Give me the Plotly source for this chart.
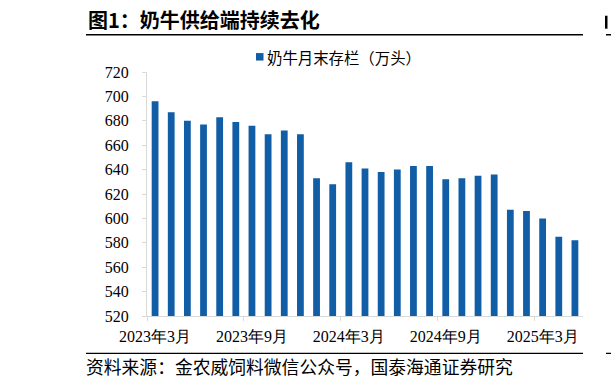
import plotly.graph_objects as go

categories = ["2023年3月", "2023年4月", "2023年5月", "2023年6月", "2023年7月", "2023年8月",
              "2023年9月", "2023年10月", "2023年11月", "2023年12月", "2024年1月", "2024年2月",
              "2024年3月", "2024年4月", "2024年5月", "2024年6月", "2024年7月", "2024年8月",
              "2024年9月", "2024年10月", "2024年11月", "2024年12月", "2025年1月", "2025年2月",
              "2025年3月", "2025年4月", "2025年5月"]
values = [696, 687, 680, 677, 683, 679, 676, 669, 672, 669, 633, 628,
          646, 641, 638, 640, 643, 643, 632, 633, 635, 636, 607, 606,
          600, 585, 582]
series_name = "奶牛月末存栏（万头）"
tick_idx = [0, 6, 12, 18, 24]
ytick_vals = [520, 540, 560, 580, 600, 620, 640, 660, 680, 700, 720]

W, H = 611, 387
L, R, T, B = 147, 28, 71.5, 70.5
pw = W - L - R
ph = H - T - B

x_idx = list(range(len(categories)))
FONT = "Times New Roman, Liberation Serif, DejaVu Serif, serif"
CJK = "Noto Sans CJK SC"
BLUE = "#115DA6"

fig = go.Figure()
fig.add_trace(go.Bar(x=x_idx, y=values, name=series_name, marker_color=BLUE,
                     marker_line_width=0, width=0.42, showlegend=False, hoverinfo="skip"))

def px_x(p):
    return (p - L) / pw

def px_y(p):
    return (H - B - p) / ph

fig.update_layout(
    width=W, height=H,
    margin=dict(l=L, r=R, t=T, b=B),
    paper_bgcolor="white", plot_bgcolor="white",
    font=dict(family=FONT, size=16, color="black"),
    showlegend=False,
    xaxis=dict(range=[-0.5, len(categories) - 0.5], tickmode="array",
               tickvals=tick_idx, ticktext=[categories[i] for i in tick_idx],
               ticks="", showline=True, linecolor="#D9D9D9", linewidth=1,
               showgrid=False, zeroline=False, ticklabelstandoff=6,
               minor=dict(tickmode="array", tickvals=[i - 0.5 for i in tick_idx],
                          ticks="outside", ticklen=4, tickcolor="#D9D9D9", showgrid=False),
               tickfont=dict(family=FONT, size=16, color="black")),
    yaxis=dict(range=[520, 720], tickmode="array", tickvals=ytick_vals,
               ticks="outside", ticklen=4, tickcolor="#D9D9D9",
               showline=True, linecolor="#D9D9D9", linewidth=1,
               showgrid=False, zeroline=False, ticklabelstandoff=10,
               tickfont=dict(family=FONT, size=16, color="black")),
)

# legend (square + label)
fig.add_shape(type="rect", xref="paper", yref="paper", x0=px_x(256), x1=px_x(263.5),
              y0=px_y(60), y1=px_y(52.5), fillcolor=BLUE, line_width=0)
fig.add_annotation(xref="paper", yref="paper", x=px_x(265), y=px_y(56), xanchor="left", yanchor="middle",
                   text=series_name, showarrow=False,
                   font=dict(family=CJK, size=15.4, color="black"))

# title and source
fig.add_annotation(xref="paper", yref="paper", x=px_x(86), y=px_y(19), xanchor="left", yanchor="middle",
                   text="<b>图1：奶牛供给端持续去化</b>", showarrow=False,
                   font=dict(family=CJK, size=20, color="black"))
fig.add_annotation(xref="paper", yref="paper", x=px_x(84), y=px_y(367), xanchor="left", yanchor="middle",
                   text="资料来源：金农威饲料微信公众号，国泰海通证券研究", showarrow=False,
                   font=dict(family=CJK, size=17.8, color="black"))
for (x0, x1) in [(86, 583), (606, 640)]:
    fig.add_shape(type="line", xref="paper", yref="paper", x0=px_x(x0), x1=px_x(x1),
                  y0=px_y(34), y1=px_y(34), line=dict(color="black", width=1.5))
    fig.add_shape(type="line", xref="paper", yref="paper", x0=px_x(x0), x1=px_x(x1),
                  y0=px_y(354), y1=px_y(354), line=dict(color="black", width=1.2))
# partial glyph of the neighbouring figure's title at the right edge
fig.add_shape(type="rect", xref="paper", yref="paper", x0=px_x(605), x1=px_x(607.5),
              y0=px_y(28), y1=px_y(15), fillcolor="black", line_width=0)

fig.write_html("out.html", config={"displayModeBar": False},
               post_script="document.body.style.margin='0px';")
